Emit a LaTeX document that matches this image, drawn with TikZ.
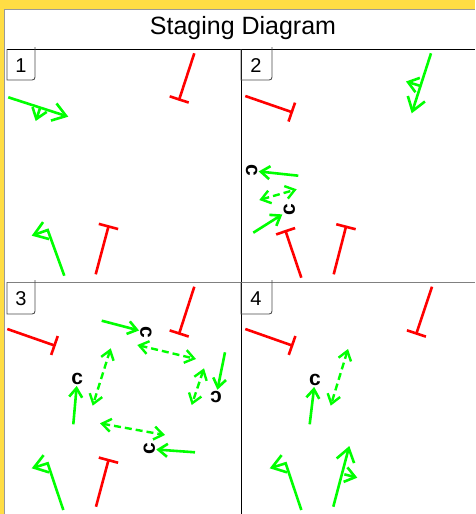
\documentclass[tikz,border=0pt]{standalone}
\usepackage{fontspec}
\setmainfont{Liberation Sans}
\usetikzlibrary{arrows.meta}
\definecolor{bgyellow}{HTML}{FFDD44}
\definecolor{ggreen}{HTML}{00FF00}
\definecolor{rred}{HTML}{FF0000}
\tikzset{
 garrow/.style={draw=ggreen, line width=2.6pt, -{Straight Barb[length=13pt,width=18pt]}},
 gsmall/.style={draw=ggreen, line width=2.6pt, -{Straight Barb[length=10pt,width=15pt]}},
 carrow/.style={draw=ggreen, line width=2.6pt, -{Straight Barb[length=9pt,width=13pt]}},
 cdash/.style={draw=ggreen, line width=2.4pt, dash pattern=on 7pt off 4pt, {Straight Barb[length=9pt,width=13pt]}-{Straight Barb[length=9pt,width=13pt]}},
 inhib/.style={draw=rred, line width=2.6pt, -{Bar[width=20pt]}},
 cl/.style={font=\fontsize{21}{21}\selectfont\bfseries, inner sep=1pt},
 numlbl/.style={font=\fontsize{20}{20}\selectfont, anchor=base, inner sep=0pt},
 lblbox/.style={draw=black!70, line width=0.8pt},
 sep/.style={draw=black, line width=1pt},
}
\begin{document}
\begin{tikzpicture}[x=1pt,y=-1pt]
\useasboundingbox (0,0) rectangle (475,514);
\fill[bgyellow] (0,0) rectangle (475,514);
\fill[white] (4,9) rectangle (475,514);
\draw[black!40, line width=0.5pt] (4,514) -- (4,9) -- (475,9);
% title
\node[font=\fontsize{25}{25}\selectfont, anchor=base, inner sep=0pt] (title) at (243,34) {Staging Diagram};
% panel separators
\draw[sep] (7,49) -- (475,49);
\draw[sep] (241,49) -- (241,514);
\draw[sep, draw=black!50] (7,282) -- (475,282);
% label boxes
\draw[lblbox] (7,49) -- (7,80) -- (32,80) .. controls (34,80) and (35,79) .. (35,77) -- (35,47);
\draw[lblbox] (241,49) -- (241,80) -- (269,80) .. controls (271,80) and (272,79) .. (272,77) -- (272,47);
\draw[lblbox] (7,282) -- (7,314) -- (32,314) .. controls (34,314) and (35,313) .. (35,311) -- (35,280);
\draw[lblbox] (241,282) -- (241,314) -- (269,314) .. controls (271,314) and (272,313) .. (272,311) -- (272,280);
\node[numlbl] (n1) at (21,72) {1};
\node[numlbl] (n2) at (256,72) {2};
\node[numlbl] (n3) at (21,305) {3};
\node[numlbl] (n4) at (256,305) {4};

% ---------- panel 1 ----------
\coordinate (a1s) at (8.3,97.3); \coordinate (a1e) at (68.3,116.7);
\draw[garrow] (a1s) -- (a1e);
\coordinate (a1ms) at (40,108.3); \coordinate (a1me) at (35.7,121);
\draw[gsmall] (a1ms) -- (a1me);
\coordinate (b1s) at (64.3,275.7); \coordinate (b1m) at (47.7,230); \coordinate (b1e) at (31.7,235.7);
\draw[garrow] (b1s) -- (b1m) -- (b1e);
\coordinate (r1as) at (194.3,53.3); \coordinate (r1ae) at (178.8,100.7);
\draw[inhib] (r1as) -- (r1ae);
\coordinate (r1bs) at (95.7,274.3); \coordinate (r1be) at (108.8,225.2);
\draw[inhib] (r1bs) -- (r1be);

% ---------- panel 2 ----------
\coordinate (a2s) at (431,53.3); \coordinate (a2e) at (411.7,113.3);
\draw[garrow] (a2s) -- (a2e);
\coordinate (a2ms) at (419.7,85.7); \coordinate (a2me) at (406,81.5);
\draw[gsmall] (a2ms) -- (a2me);
\coordinate (r2as) at (245.3,96); \coordinate (r2ae) at (293,112.5);
\draw[inhib] (r2as) -- (r2ae);
\coordinate (r2bs) at (301.3,277.7); \coordinate (r2be) at (285.2,230);
\draw[inhib] (r2bs) -- (r2be);
\coordinate (r2cs) at (333.7,274.3); \coordinate (r2ce) at (346.3,225.5);
\draw[inhib] (r2cs) -- (r2ce);
\node[cl, rotate=-90] (c21) at (251.7,170.7) {c};
\node[cl, rotate=90] (c22) at (289.3,210) {c};
\coordinate (k21) at (298.3,175.7);
\draw[carrow] (k21) -- (c21);
\coordinate (k22) at (253.3,232.7);
\draw[carrow] (k22) -- (c22);
\coordinate (d2a) at (259.3,200); \coordinate (d2b) at (296.7,189.3);
\draw[cdash] (d2a) -- (d2b);

% ---------- panel 3 ----------
\coordinate (r3as) at (7.3,329); \coordinate (r3ae) at (55.7,345.9);
\draw[inhib] (r3as) -- (r3ae);
\coordinate (r3bs) at (194.3,286.7); \coordinate (r3be) at (178.8,334.7);
\draw[inhib] (r3bs) -- (r3be);
\coordinate (r3cs) at (96,506.7); \coordinate (r3ce) at (108.8,458.9);
\draw[inhib] (r3cs) -- (r3ce);
\coordinate (b3s) at (63.3,510); \coordinate (b3m) at (47.7,463.3); \coordinate (b3e) at (31.7,468.3);
\draw[garrow] (b3s) -- (b3m) -- (b3e);
\node[cl, rotate=-90] (c31) at (146,332.3) {c};
\node[cl, rotate=180] (c32) at (216,396.7) {c};
\node[cl] (c33) at (77.3,379) {c};
\node[cl, rotate=90] (c34) at (149.3,449) {c};
\coordinate (k31) at (101.7,320.7); \draw[carrow] (k31) -- (c31);
\coordinate (k32) at (225,352.3); \draw[carrow] (k32) -- (c32);
\coordinate (k33) at (73.3,424.3); \draw[carrow] (k33) -- (c33);
\coordinate (k34) at (195,452.3); \draw[carrow] (k34) -- (c34);
\coordinate (d31a) at (137.3,345); \coordinate (d31b) at (196,359);
\draw[cdash] (d31a) -- (d31b);
\coordinate (d32a) at (204,368.3); \coordinate (d32b) at (191.7,405);
\draw[cdash] (d32a) -- (d32b);
\coordinate (d33a) at (110.7,348.3); \coordinate (d33b) at (92.7,405.7);
\draw[cdash] (d33a) -- (d33b);
\coordinate (d34a) at (100,423.3); \coordinate (d34b) at (165,435);
\draw[cdash] (d34a) -- (d34b);

% ---------- panel 4 ----------
\coordinate (r4as) at (245.3,329); \coordinate (r4ae) at (293.3,345.9);
\draw[inhib] (r4as) -- (r4ae);
\coordinate (r4bs) at (432,286.7); \coordinate (r4be) at (416,334.7);
\draw[inhib] (r4bs) -- (r4be);
\coordinate (b4s) at (301.3,510); \coordinate (b4m) at (285.7,463.3); \coordinate (b4e) at (269.7,468.3);
\draw[garrow] (b4s) -- (b4m) -- (b4e);
\coordinate (a4s) at (333.3,506.7); \coordinate (a4e) at (349.3,446);
\draw[garrow] (a4s) -- (a4e);
\coordinate (a4ms) at (344.3,474.3); \coordinate (a4me) at (357.3,477.7);
\draw[gsmall] (a4ms) -- (a4me);
\node[cl] (c41) at (315,380) {c};
\coordinate (k41) at (309.7,424.3); \draw[carrow] (k41) -- (c41);
\coordinate (d4a) at (348,349); \coordinate (d4b) at (330.7,405.7);
\draw[cdash] (d4a) -- (d4b);
\end{tikzpicture}
\end{document}
